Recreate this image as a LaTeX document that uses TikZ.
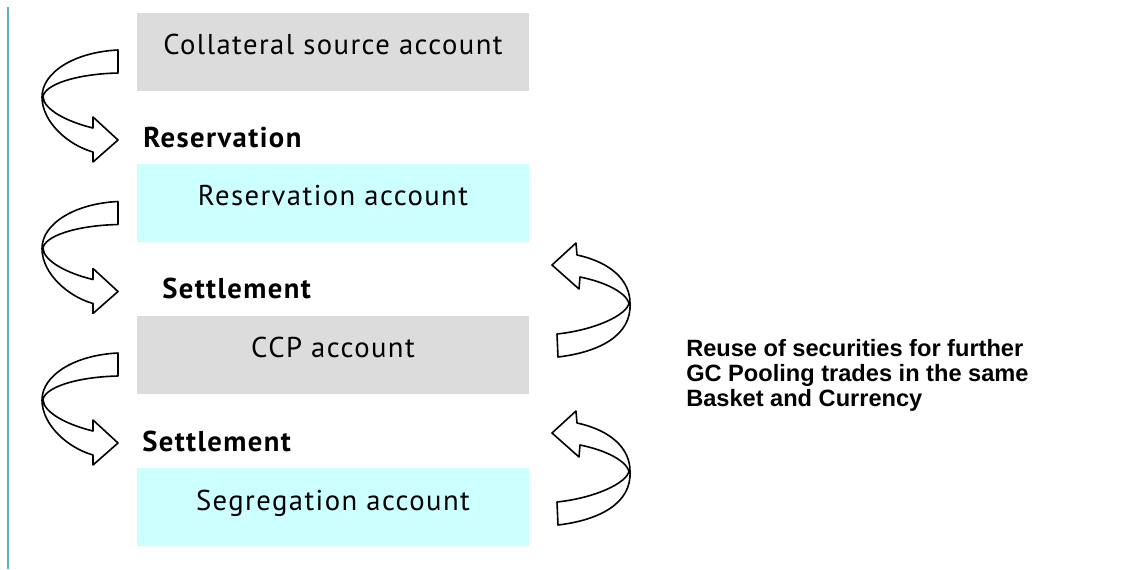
\documentclass[tikz,border=0pt]{standalone}
\usepackage{fontspec}
\setmainfont{PT Sans}
\newfontfamily\acctfont[LetterSpace=5]{PT Sans}
\newfontfamily\arialfont{Liberation Sans}
\usetikzlibrary{positioning}

\definecolor{boxgray}{RGB}{220,220,220}
\definecolor{boxcyan}{RGB}{204,255,255}
\definecolor{rulecyan}{RGB}{90,180,200}

% curved arrow going down on the left of the boxes
\newcommand{\downturn}[1]{%
  \draw[turn, shift={(0,#1)}] (118,50) .. controls (75,52) and (42,72) .. (42,97)
    .. controls (42,122) and (68,145) .. (93,152) -- (93,162) -- (118,140) -- (93,117) -- (93,128)
    .. controls (68,122) and (44,110) .. (43,97)
    .. controls (44,85) and (75,74) .. (118,73) -- cycle;}
% curved arrow going back up on the right of the boxes
\newcommand{\upturn}[1]{%
  \draw[turn, shift={(0,#1)}] (552,265) -- (576,243) -- (577,255)
    .. controls (610,262) and (630,280) .. (630,303)
    .. controls (632,335) and (600,352) .. (558,357) -- (557,334)
    .. controls (595,330) and (627,315) .. (629,303)
    .. controls (625,292) and (605,282) .. (580,277) -- (579,289) -- cycle;}

\begin{document}
\begin{tikzpicture}[x=0.75pt, y=-0.75pt,
    acct/.style={minimum width=294pt, minimum height=58.5pt, inner sep=0pt,
      text height=15pt, text depth=10.5pt, font=\acctfont\fontsize{21.5}{24}\selectfont},
    stage/.style={anchor=base west, inner sep=0pt, font=\acctfont\bfseries\fontsize{21.5}{24}\selectfont},
    turn/.style={draw=black, line width=1.2pt, fill=white, line join=round}]
  \useasboundingbox (0,0) rectangle (1146,569);

  \draw[rulecyan, line width=1pt] (8,7) -- (8,569);

  \node [acct, fill=boxgray] (source) at (333,51.5)  {Collateral source account};
  \node [acct, fill=boxcyan] (reserv) at (333,202.5) {Reservation account};
  \node [acct, fill=boxgray] (ccp)    at (333,354.5) {CCP account};
  \node [acct, fill=boxcyan] (segreg) at (333,507)   {Segregation account};

  \node [stage] (reservStep) at (143,147) {Reservation};
  \node [stage] (settleOne)  at (162,298) {Settlement};
  \node [stage] (settleTwo)  at (142,451) {Settlement};

  \downturn{0}
  \downturn{151.5}
  \downturn{303}
  \upturn{0}
  \upturn{168}

  \node [anchor=north west, align=left, inner sep=0pt,
         font=\arialfont\bfseries\fontsize{17.7}{18.5}\selectfont] (reuse) at (686,339.5)
    {Reuse of securities for further\\GC Pooling trades in the same\\Basket and Currency};
\end{tikzpicture}
\end{document}
